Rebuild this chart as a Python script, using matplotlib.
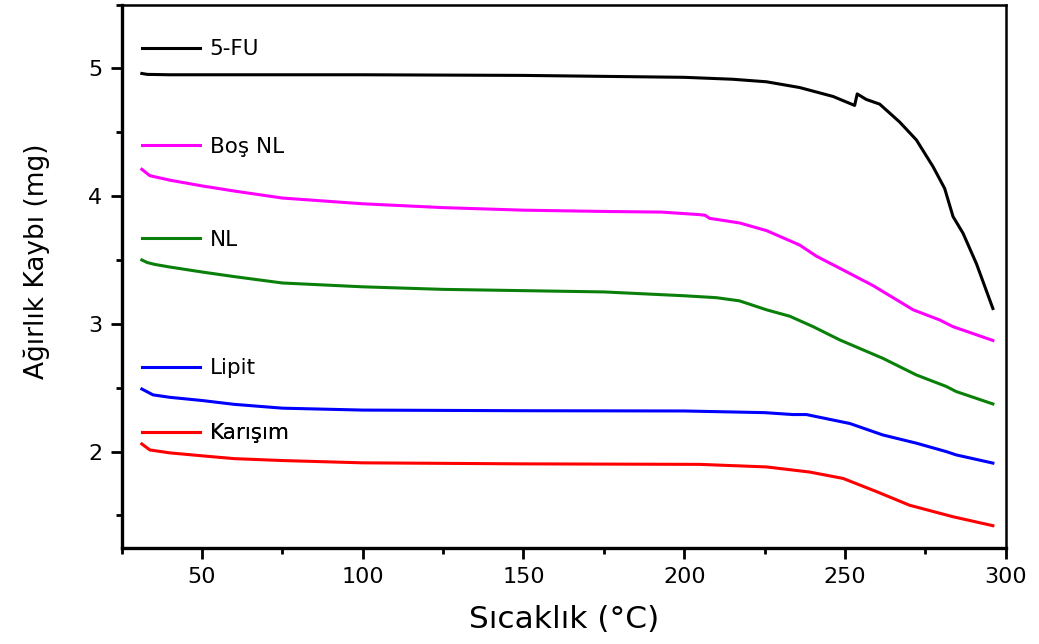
import matplotlib
matplotlib.use("Agg")
import matplotlib.pyplot as plt
from matplotlib.lines import Line2D
from matplotlib.ticker import MultipleLocator

plt.rcParams["font.family"] = ["DejaVu Sans"]

# TGA curves: temperature (°C) vs. sample mass (mg)
fu_t = [31.3, 33, 40, 50, 100, 150, 200, 215, 225.6, 235.9, 246.3, 253.0, 253.8,
        256.6, 260.8, 267.0, 272.2, 277.4, 281.0, 283.6, 286.7, 290.9, 296.0]
fu_w = [4.96, 4.953, 4.95, 4.95, 4.95, 4.945, 4.93, 4.915, 4.895, 4.85, 4.78, 4.71,
        4.80, 4.757, 4.72, 4.58, 4.44, 4.23, 4.06, 3.84, 3.71, 3.47, 3.12]

bos_t = [31.3, 33.8, 40, 50, 60, 75, 100, 125, 150, 175, 193, 204.8, 206.5, 207.9,
         217.2, 225.6, 235.9, 241.1, 248.4, 258.7, 271.2, 279.5, 283.6, 296.0]
bos_w = [4.21, 4.16, 4.125, 4.08, 4.04, 3.985, 3.94, 3.91, 3.89, 3.88, 3.875, 3.855,
         3.85, 3.826, 3.79, 3.73, 3.617, 3.53, 3.435, 3.30, 3.11, 3.03, 2.978, 2.87]

nl_t = [31.3, 33.0, 35.4, 40, 50, 60, 75, 100, 125, 150, 175, 200, 210, 217.2,
        225.6, 232.8, 240.1, 248.4, 261.8, 272.2, 281.5, 284.6, 296.0]
nl_w = [3.50, 3.48, 3.465, 3.445, 3.406, 3.37, 3.32, 3.29, 3.27, 3.26, 3.25, 3.22,
        3.205, 3.18, 3.11, 3.06, 2.978, 2.874, 2.73, 2.60, 2.51, 2.47, 2.373]

lipit_t = [31.3, 34.8, 40, 50, 60, 75, 100, 150, 200, 225, 233.8, 238.0, 251.5,
           261.8, 272.2, 281.5, 284.6, 296.0]
lipit_w = [2.49, 2.444, 2.425, 2.40, 2.37, 2.34, 2.325, 2.32, 2.318, 2.305, 2.29,
           2.29, 2.22, 2.13, 2.066, 2.0, 1.974, 1.91]

karisim_t = [31.3, 33.8, 40, 50, 60, 75, 100, 150, 204.8, 225.6, 239.0, 249.4,
             259.8, 270.1, 283.6, 296.0]
karisim_w = [2.06, 2.013, 1.99, 1.967, 1.945, 1.93, 1.912, 1.904, 1.90, 1.88, 1.84,
             1.79, 1.687, 1.58, 1.49, 1.42]

series = [
    ("5-FU", fu_t, fu_w, "black", 0.918),
    ("Boş NL", bos_t, bos_w, "#ff00ff", 0.738),
    ("NL", nl_t, nl_w, "#0a800a", 0.567),
    ("Lipit", lipit_t, lipit_w, "#0000ff", 0.331),
    ("Karışım", karisim_t, karisim_w, "#ff0000", 0.211),
]

fig = plt.figure(figsize=(10.39, 6.44), dpi=100)
ax = fig.add_axes([0.117, 0.149, 0.851, 0.844])

for name, t, w, color, ly in series:
    ax.plot(t, w, color=color, lw=2.2, solid_joinstyle="round")
    handle = Line2D([], [], color=color, lw=2.2)
    leg = ax.legend([handle], [name], loc="center left", bbox_to_anchor=(0.023, ly),
                    frameon=False, fontsize=15.5, handlelength=2.7, handletextpad=0.45,
                    borderaxespad=0, borderpad=0)
    ax.add_artist(leg)

ax.set_xlim(25, 300)
ax.set_ylim(1.245, 5.5)
ax.xaxis.set_major_locator(MultipleLocator(50))
ax.xaxis.set_minor_locator(MultipleLocator(25))
ax.yaxis.set_major_locator(MultipleLocator(1))
ax.yaxis.set_minor_locator(MultipleLocator(0.5))

ax.tick_params(which="major", direction="out", length=8, width=2, labelsize=16, pad=6)
ax.tick_params(which="minor", direction="out", length=4, width=2)

for side in ("left", "bottom"):
    ax.spines[side].set_linewidth(2.4)
for side in ("top", "right"):
    ax.spines[side].set_linewidth(1.8)

ax.set_xlabel("Sıcaklık (°C)", fontsize=22.5)
ax.set_ylabel("Ağırlık Kaybı (mg)", fontsize=19)
ax.xaxis.set_label_coords(0.5, -0.104)
ax.yaxis.set_label_coords(-0.081, 0.528)

fig.savefig("out.png", dpi=100)
